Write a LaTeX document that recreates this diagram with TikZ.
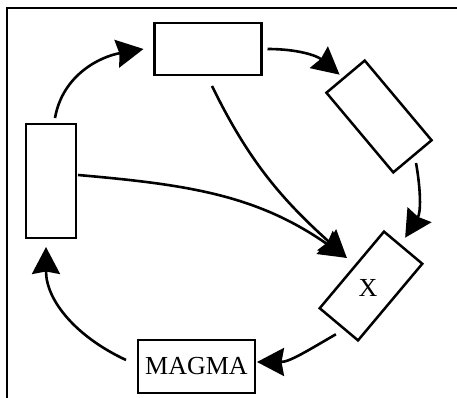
\documentclass[tikz,border=0pt]{standalone}
\usepackage{fontspec}
\setmainfont{Liberation Serif}
\usetikzlibrary{arrows.meta}
\begin{document}
\begin{tikzpicture}[x=1pt,y=1pt,
  box/.style={draw, line width=2.5pt, inner sep=0pt, outer sep=0pt},
  arr/.style={line width=2.6pt, -{Stealth[length=27pt,width=28pt,inset=2.5pt]}},
  lbl/.style={font=\fontsize{26}{30}\selectfont, inner sep=0pt}]
\useasboundingbox (0,0) rectangle (457,398);
\draw[line width=1.8pt] (7,0) -- (7,390) -- (457,390);
% boxes
\node[box, minimum width=107pt, minimum height=52pt] (top) at (208,349) {};
\node[box, minimum width=50pt, minimum height=114pt] (left) at (51,217) {};
\node[box, rotate=-50, minimum width=104pt, minimum height=50pt] (rb) at (379,281.5) {};
\node[box, rotate=50, minimum width=100pt, minimum height=50pt] (xb) at (371,112) {};
\node[lbl] (xl) at (368,110) {X};
\node[box, minimum width=117pt, minimum height=53pt, lbl] (magma) at (196.5,31.5) {MAGMA};
% cycle arrows
\draw[arr] ([shift={(4pt,6pt)}]left.north) to[out=80,in=190] ([xshift=-11pt]top.west);
\draw[arr] ([xshift=6pt]top.east) to[out=0,in=140] ([shift={(-6pt,2pt)}]rb.west);
\draw[arr] ([shift={(3.6pt,-6.7pt)}]rb.east) to[out=-80,in=58] ([shift={(2pt,10pt)}]xb.east);
\draw[arr] ([shift={(-3pt,-10pt)}]xb.west) to[out=210,in=0] ([shift={(2pt,4.5pt)}]magma.east);
\draw[arr] ([shift={(-12pt,6.5pt)}]magma.west) to[out=155,in=-90] ([shift={(-5pt,-9pt)}]left.south);
% converging arrows
\draw[arr] ([shift={(2pt,6pt)}]left.east) to[out=-5,in=145] ([shift={(-5pt,12pt)}]xb.north);
\draw[arr] ([shift={(4pt,-11pt)}]top.south) to[out=-64,in=138] ([shift={(-5pt,12pt)}]xb.north);
\end{tikzpicture}
\end{document}
